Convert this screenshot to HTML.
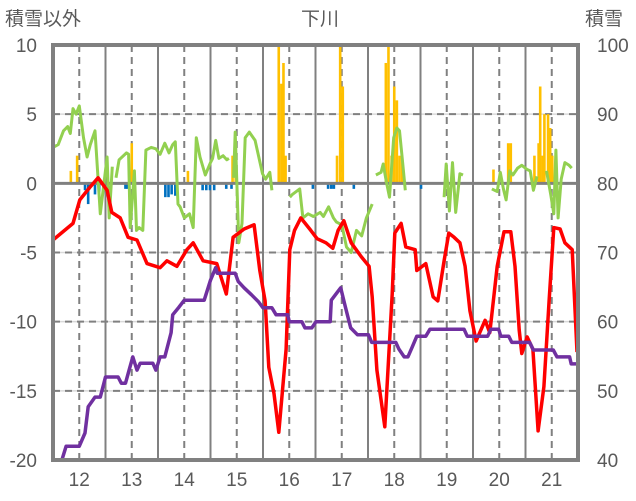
<!DOCTYPE html>
<html><head><meta charset="utf-8">
<style>
body{margin:0;background:#fff;}
svg{display:block;font-family:"Liberation Sans","Noto Sans CJK JP",sans-serif;}
</style></head>
<body>
<svg id="chart" width="636" height="501">
<text x="5" y="25" font-size="19" fill="#595959">積雪以外</text>
<text x="320" y="25" font-size="19" fill="#595959" text-anchor="middle">下川</text>
<text x="585" y="25" font-size="19" fill="#595959">積雪</text>
</svg>
<script>
const xTicks=[12,13,14,15,16,17,18,19,20,21];
const yLeftTicks=[10,5,0,-5,-10,-15,-20];
const yRightTicks=[100,90,80,70,60,50,40];
const tempX=[11.5,11.88,12.01,12.2,12.36,12.53,12.62,12.78,12.93,13.1,13.29,13.54,13.67,13.86,14.05,14.17,14.36,14.62,14.8,14.93,15.14,15.33,15.44,15.54,15.61,15.71,15.8,15.94,16.01,16.1,16.22,16.41,16.53,16.7,16.83,16.93,17.04,17.18,17.37,17.52,17.58,17.67,17.82,17.96,18.01,18.13,18.22,18.4,18.43,18.6,18.74,18.83,18.95,19.04,19.14,19.25,19.35,19.44,19.56,19.73,19.82,19.96,20.09,20.22,20.3,20.38,20.43,20.53,20.64,20.74,20.85,20.95,21.04,21.16,21.25,21.39,21.48];
const tempY=[-4.1,-2.9,-1.2,-0.3,0.4,-0.5,-2.1,-2.5,-3.9,-4.1,-5.8,-6.1,-5.6,-6,-4.8,-4.3,-5.6,-5.8,-8,-3.9,-3.3,-3.0,-6.3,-8.5,-13.3,-15.2,-18,-12,-4.8,-3.4,-2.5,-3.4,-4,-4.3,-4.7,-3.4,-2.7,-4.3,-5.3,-6,-8.2,-13.5,-17.6,-8,-3.6,-2.9,-4.6,-4.8,-6.3,-5.8,-8.2,-8.5,-5.6,-3.6,-3.9,-4.3,-6,-9.2,-11.4,-9.9,-10.8,-6,-3.5,-3.5,-6,-10.6,-12.3,-11.1,-12,-17.9,-14.7,-8.5,-3.2,-3.3,-4.3,-4.8,-12.2];
const snowX=[11.5,11.67,11.75,12.0,12.11,12.17,12.3,12.4,12.5,12.74,12.8,12.88,12.95,13.02,13.1,13.16,13.4,13.46,13.54,13.63,13.75,13.78,13.9,14.0,14.38,14.5,14.6,14.63,14.97,15.03,15.14,15.28,15.41,15.5,15.67,15.75,15.97,16.0,16.24,16.3,16.43,16.51,16.78,16.8,16.9,16.98,17.07,17.17,17.3,17.51,17.57,18.03,18.09,18.19,18.26,18.34,18.43,18.6,18.68,19.33,19.39,19.78,19.84,19.99,20.03,20.18,20.24,20.58,20.65,21.03,21.1,21.34,21.37,21.5];
const snowY=[40,40,42,42,43.9,47.7,49.1,49.1,52,52,51.1,51.1,53,54.9,53,54,54,53,54.9,54.9,58.4,61,62.1,63.1,63.1,66,67.8,67,67,65.8,64.9,63.9,62.9,62,62,61,61,60,60,59.1,59.1,60,60,63.1,64.1,64.9,62.1,59.1,58.1,58.1,57,57,56,54.9,54.9,56.3,57.9,57.9,58.9,58.9,57.9,57.9,58.9,58.9,57.9,57.9,57,57,55.9,55.9,54.9,54.9,53.9,53.9];
const otherX=[11.5,11.6,11.7,11.78,11.83,11.88,11.94,12.0,12.08,12.15,12.21,12.3,12.4,12.53,12.57,12.63,null,12.7,12.76,12.9,12.94,12.97,13.05,13.09,13.14,13.21,13.27,13.37,13.46,13.54,13.63,13.71,13.78,13.83,13.88,13.92,14.0,14.1,14.17,14.23,14.3,14.4,14.5,14.54,14.6,14.66,14.74,14.81,14.85,null,14.94,14.97,15.04,15.1,15.16,15.24,15.35,15.49,15.55,15.63,15.67,null,16.01,16.06,16.2,16.26,16.36,16.46,16.59,16.65,16.75,16.84,16.9,17.0,17.09,17.18,17.28,17.38,17.47,17.58,null,17.65,17.75,17.79,17.85,17.91,17.99,18.05,18.1,18.15,18.21,null,18.95,18.99,19.05,19.11,19.17,19.25,19.31,null,19.86,19.96,20.02,20.08,20.13,20.2,20.26,20.35,20.43,20.53,20.59,20.65,20.72,null,20.9,20.98,21.04,21.08,21.12,21.18,21.25,21.33,21.38];
const otherY=[2.6,2.8,3.8,4.1,3.6,5.4,5,5.6,3.3,1.9,2.8,3.8,-2.2,1.9,-2.5,1.2,null,0.4,1.7,2.2,2.1,-3.2,0.9,-3.4,-3.2,-3.4,2.4,2.6,2.5,2.1,2.9,2.2,2.8,3.0,-1.5,-1.7,-2.5,-2.2,-3.2,3.3,1.9,0.6,1.5,1.8,3.1,1.8,2.0,1.7,1.8,null,0.4,3.7,-4.3,-2.9,3.3,3.7,3.1,0.7,0.3,0.8,-0.5,null,-1,-0.8,-0.4,-2.5,-2.2,-2.4,-2.1,-2.4,-1.7,-2.5,-2.8,-3,-4.6,-5,-3.4,-3.8,-2.5,-1.5,null,0.6,0.8,1.4,0.1,-1,3.3,4,3.8,1.9,-0.5,null,-1,1.4,-2,1.5,-2.1,0.7,0.6,null,-0.4,-0.6,0.8,-0.4,-1.2,0.9,0.6,1.1,1.3,1.0,0.9,-0.5,0.5,null,0.9,-0.8,-2.2,2.4,-2.5,0.3,1.5,1.3,1.1];
const barX=[11.84,11.96,13.0,14.07,14.92,14.98,15.8,15.85,15.89,15.93,16.91,16.97,17.02,17.84,17.89,17.95,18.0,18.05,18.1,18.15,19.89,20.17,20.22,20.67,20.75,20.78,20.83,20.86,20.93,20.97,21.01,
12.11,12.17,12.3,12.38,12.88,12.92,13.64,13.7,13.76,13.83,14.35,14.42,14.49,14.57,14.8,14.9,16.45,16.74,16.8,16.85,17.23,18.51];
const barY=[0.9,2,2.9,0.9,2,2,10,7.2,8.7,2,2,10,7,8.7,10,2,7,6,2,2,1,2.9,2.9,2,2.9,7,2,5,5,4,2,
-0.5,-1.5,-0.8,-0.6,-0.4,-0.4,-1,-1,-0.8,-0.9,-0.5,-0.5,-0.5,-0.5,-0.4,-0.4,-0.4,-0.4,-0.4,-0.4,-0.4,-0.4];

const svg=document.getElementById('chart');
const NS='http://www.w3.org/2000/svg';
const L=53,R=578,T=45,B=460;
const xs=h=>L+(h-11.5)/10*(R-L);
const yl=v=>T+(10-v)/30*(B-T);
const yr=v=>T+(100-v)/60*(B-T);
function el(tag,attrs){const e=document.createElementNS(NS,tag);for(const k in attrs)e.setAttribute(k,attrs[k]);svg.appendChild(e);return e;}

[5,-5,-10,-15].forEach(v=>{
  const g1=el('line',{x1:L,x2:R,y1:yl(v),y2:yl(v),stroke:'#d9d9d9','stroke-width':1.5});
  
  
  const g=el('line',{x1:L,x2:R,y1:yl(v),y2:yl(v),stroke:'#808080','stroke-width':2,'stroke-dasharray':'7,5'});
  
  
});
for(let h=12;h<=21;h++){
  const d=el('line',{x1:xs(h),x2:xs(h),y1:T,y2:B,stroke:'#808080','stroke-width':2,'stroke-dasharray':'7,5'});
  
  
}
for(let h=12.5;h<=21;h+=1){
  const s=el('line',{x1:xs(h),x2:xs(h),y1:T,y2:B,stroke:'#808080','stroke-width':2});
  
  
}
barX.forEach((h,i)=>{
  const v=barY[i];
  const y0=yl(0),y1=yl(v);
  const b=el('rect',{x:xs(h)-1.3,y:Math.min(y0,y1),width:2.6,height:Math.abs(y1-y0),fill:v>=0?'#ffc000':'#0070c0'});
  
  
});
const z=el('line',{x1:L,x2:R,y1:yl(0),y2:yl(0),stroke:'#808080','stroke-width':3});



function pathFrom(X,Y,fy){
  let d='',pen=false;
  X.forEach((h,i)=>{
    if(h===null||Y[i]===null){pen=false;return;}
    d+=(pen?'L':'M')+xs(h).toFixed(1)+','+fy(Y[i]).toFixed(1);pen=true;
  });
  return d;
}
const pg=el('path',{d:pathFrom(otherX,otherY,yl),fill:'none',stroke:'#92d050','stroke-width':3,'stroke-linejoin':'round'});


const pr=el('path',{d:pathFrom(tempX,tempY,yl),fill:'none',stroke:'#ff0000','stroke-width':3.5,'stroke-linejoin':'round'});


const pp=el('path',{d:pathFrom(snowX,snowY,yr),fill:'none',stroke:'#7030a0','stroke-width':3.5,'stroke-linejoin':'round'});



const f=el('rect',{x:L,y:T,width:R-L,height:B-T,fill:'none',stroke:'#808080','stroke-width':4});



yLeftTicks.forEach(v=>{
  const t=el('text',{x:37,y:yl(v)+7,'font-size':19,fill:'#595959','text-anchor':'end'});
  t.textContent=v;
  
  
});
yRightTicks.forEach(v=>{
  const t=el('text',{x:597,y:yr(v)+7,'font-size':19,fill:'#595959'});
  t.textContent=v;
  
  
});
xTicks.forEach(v=>{
  const t=el('text',{x:xs(v),y:486,'font-size':19,fill:'#595959','text-anchor':'middle'});
  t.textContent=v;
  
  
});
</script>
</body></html>
